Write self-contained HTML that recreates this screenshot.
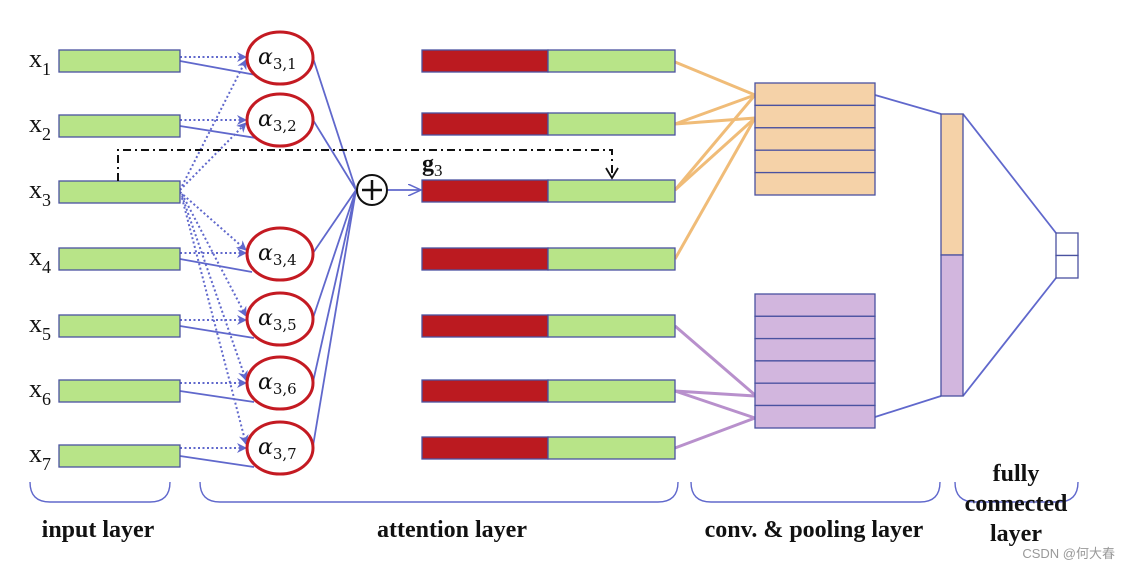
<!DOCTYPE html>
<html><head><meta charset="utf-8"><style>body{margin:0;background:#fff}svg{display:block}</style></head><body>
<svg width="1130" height="569" viewBox="0 0 1130 569" xmlns="http://www.w3.org/2000/svg" font-family="Liberation Serif, serif">
<defs>
<marker id="ar" markerWidth="10" markerHeight="10" refX="9" refY="5" orient="auto" markerUnits="userSpaceOnUse"><path d="M0,0 L10,5 L0,10 L3,5 Z" fill="#6068cc"/></marker>
<marker id="oa" markerWidth="14" markerHeight="12" refX="13" refY="6" orient="auto" markerUnits="userSpaceOnUse"><path d="M0,0 L13,6 L0,12" fill="none" stroke="#6068cc" stroke-width="1.5"/></marker>
</defs>
<g stroke="#6068cc" stroke-width="2" stroke-dasharray="2,2.5" fill="none" marker-end="url(#ar)">
<line x1="180" y1="57" x2="246" y2="57"/><line x1="180" y1="120" x2="246" y2="120"/>
<line x1="180" y1="253" x2="246" y2="253"/><line x1="180" y1="320" x2="246" y2="320"/>
<line x1="180" y1="383" x2="246" y2="383"/><line x1="180" y1="448" x2="246" y2="448"/>
<line x1="180" y1="190" x2="246" y2="60"/><line x1="180" y1="190" x2="246" y2="123"/>
<line x1="180" y1="192" x2="246" y2="250"/><line x1="182" y1="194" x2="246" y2="316"/>
<line x1="182" y1="196" x2="246" y2="380"/><line x1="182" y1="198" x2="246" y2="444"/>
</g>
<g stroke="#6068cc" stroke-width="1.8" fill="none">
<line x1="180" y1="61" x2="256" y2="75"/><line x1="180" y1="126" x2="256" y2="138"/>
<line x1="180" y1="259" x2="252" y2="272"/><line x1="180" y1="326" x2="254" y2="338"/>
<line x1="180" y1="391" x2="254" y2="402"/><line x1="180" y1="456" x2="254" y2="467"/>
<line x1="313" y1="58" x2="356" y2="190"/><line x1="313" y1="120" x2="356" y2="190"/>
<line x1="313" y1="253" x2="356" y2="190"/><line x1="313" y1="318" x2="356" y2="190"/>
<line x1="313" y1="382" x2="356" y2="190"/><line x1="313" y1="446" x2="356" y2="190"/>
<line x1="388" y1="190" x2="421" y2="190" marker-end="url(#oa)"/>
<line x1="875" y1="95" x2="941" y2="114"/><line x1="875" y1="417" x2="941" y2="396"/>
<line x1="963" y1="114" x2="1056" y2="233"/><line x1="963" y1="396" x2="1056" y2="278"/>
</g>
<g stroke="#f0bc78" stroke-width="3" fill="none">
<line x1="675" y1="62" x2="755" y2="95"/><line x1="675" y1="124" x2="755" y2="95"/><line x1="675" y1="124" x2="755" y2="118"/>
<line x1="675" y1="190" x2="755" y2="95"/><line x1="675" y1="190" x2="755" y2="118"/><line x1="675" y1="259" x2="755" y2="118"/>
</g>
<g stroke="#b890cc" stroke-width="3" fill="none">
<line x1="675" y1="326" x2="755" y2="395"/><line x1="675" y1="391" x2="755" y2="396"/><line x1="675" y1="391" x2="755" y2="418"/><line x1="675" y1="448" x2="755" y2="418"/>
</g>
<g fill="#b8e488" stroke="#4a52a0" stroke-width="1.3">
<rect x="59" y="50" width="121" height="22"/><rect x="59" y="115" width="121" height="22"/><rect x="59" y="181" width="121" height="22"/>
<rect x="59" y="248" width="121" height="22"/><rect x="59" y="315" width="121" height="22"/><rect x="59" y="380" width="121" height="22"/><rect x="59" y="445" width="121" height="22"/>
</g>
<g stroke="#4a52a0" stroke-width="1.3">
<g fill="#bb1a20"><rect x="422" y="50" width="126" height="22"/><rect x="422" y="113" width="126" height="22"/><rect x="422" y="180" width="126" height="22"/><rect x="422" y="248" width="126" height="22"/><rect x="422" y="315" width="126" height="22"/><rect x="422" y="380" width="126" height="22"/><rect x="422" y="437" width="126" height="22"/></g>
<g fill="#b8e488"><rect x="548" y="50" width="127" height="22"/><rect x="548" y="113" width="127" height="22"/><rect x="548" y="180" width="127" height="22"/><rect x="548" y="248" width="127" height="22"/><rect x="548" y="315" width="127" height="22"/><rect x="548" y="380" width="127" height="22"/><rect x="548" y="437" width="127" height="22"/></g>
<g fill="#f5d2a8"><rect x="755" y="83" width="120" height="22.4"/><rect x="755" y="105.4" width="120" height="22.4"/><rect x="755" y="127.8" width="120" height="22.4"/><rect x="755" y="150.2" width="120" height="22.4"/><rect x="755" y="172.6" width="120" height="22.4"/>
<rect x="941" y="114" width="22" height="141"/></g>
<g fill="#d2b6de"><rect x="755" y="294" width="120" height="22.3"/><rect x="755" y="316.3" width="120" height="22.3"/><rect x="755" y="338.6" width="120" height="22.3"/><rect x="755" y="360.9" width="120" height="22.3"/><rect x="755" y="383.2" width="120" height="22.3"/><rect x="755" y="405.5" width="120" height="22.5"/>
<rect x="941" y="255" width="22" height="141"/></g>
<g fill="#fff"><rect x="1056" y="233" width="22" height="22.5"/><rect x="1056" y="255.5" width="22" height="22.5"/></g>
</g>
<g fill="#fff" stroke="#c41a22" stroke-width="3">
<ellipse cx="280" cy="58" rx="33" ry="26"/><ellipse cx="280" cy="120" rx="33" ry="26"/><ellipse cx="280" cy="254" rx="33" ry="26"/>
<ellipse cx="280" cy="319" rx="33" ry="26"/><ellipse cx="280" cy="383" rx="33" ry="26"/><ellipse cx="280" cy="448" rx="33" ry="26"/>
</g>
<g font-family="DejaVu Serif, serif" font-style="italic" font-size="22" fill="#111">
<text x="258" y="64">α<tspan font-style="normal" font-size="15" dy="5">3,1</tspan></text>
<text x="258" y="126">α<tspan font-style="normal" font-size="15" dy="5">3,2</tspan></text>
<text x="258" y="260">α<tspan font-style="normal" font-size="15" dy="5">3,4</tspan></text>
<text x="258" y="325">α<tspan font-style="normal" font-size="15" dy="5">3,5</tspan></text>
<text x="258" y="389">α<tspan font-style="normal" font-size="15" dy="5">3,6</tspan></text>
<text x="258" y="454">α<tspan font-style="normal" font-size="15" dy="5">3,7</tspan></text>
</g>
<circle cx="372" cy="190" r="15" fill="#fff" stroke="#111" stroke-width="2"/>
<line x1="362" y1="190" x2="382" y2="190" stroke="#111" stroke-width="2.5"/><line x1="372" y1="180" x2="372" y2="200" stroke="#111" stroke-width="2.5"/>
<g stroke="#111" stroke-width="2" fill="none" stroke-dasharray="8,4,2,4">
<polyline points="118,181 118,150 612,150 612,176"/>
</g>
<path d="M606,168 L612,178 L618,168" fill="none" stroke="#111" stroke-width="1.8"/>
<g font-size="26" fill="#111">
<text x="29" y="67">x<tspan font-size="18" dy="8">1</tspan></text>
<text x="29" y="132">x<tspan font-size="18" dy="8">2</tspan></text>
<text x="29" y="198">x<tspan font-size="18" dy="8">3</tspan></text>
<text x="29" y="265">x<tspan font-size="18" dy="8">4</tspan></text>
<text x="29" y="332">x<tspan font-size="18" dy="8">5</tspan></text>
<text x="29" y="397">x<tspan font-size="18" dy="8">6</tspan></text>
<text x="29" y="462">x<tspan font-size="18" dy="8">7</tspan></text>
</g>
<text x="422" y="171" font-size="24" font-weight="bold" fill="#111">g<tspan font-size="17" font-weight="normal" dy="5">3</tspan></text>
<g stroke="#6068cc" stroke-width="1.4" fill="none">
<path d="M30,482 Q30,502 50,502 L150,502 Q170,502 170,482"/>
<path d="M200,482 Q200,502 220,502 L658,502 Q678,502 678,482"/>
<path d="M691,482 Q691,502 711,502 L920,502 Q940,502 940,482"/>
<path d="M955,482 Q955,502 975,502 L1058,502 Q1078,502 1078,482"/>
</g>
<g font-size="24" font-weight="bold" fill="#111" text-anchor="middle">
<text x="98" y="537">input layer</text>
<text x="452" y="537">attention layer</text>
<text x="814" y="537">conv. &amp; pooling layer</text>
<text x="1016" y="481">fully</text><text x="1016" y="511">connected</text><text x="1016" y="541">layer</text>
</g>
<text x="1115" y="558" font-family="Liberation Sans, Noto Sans CJK SC, sans-serif" font-size="13" fill="#999" text-anchor="end">CSDN @何大春</text>
</svg>
</body></html>
